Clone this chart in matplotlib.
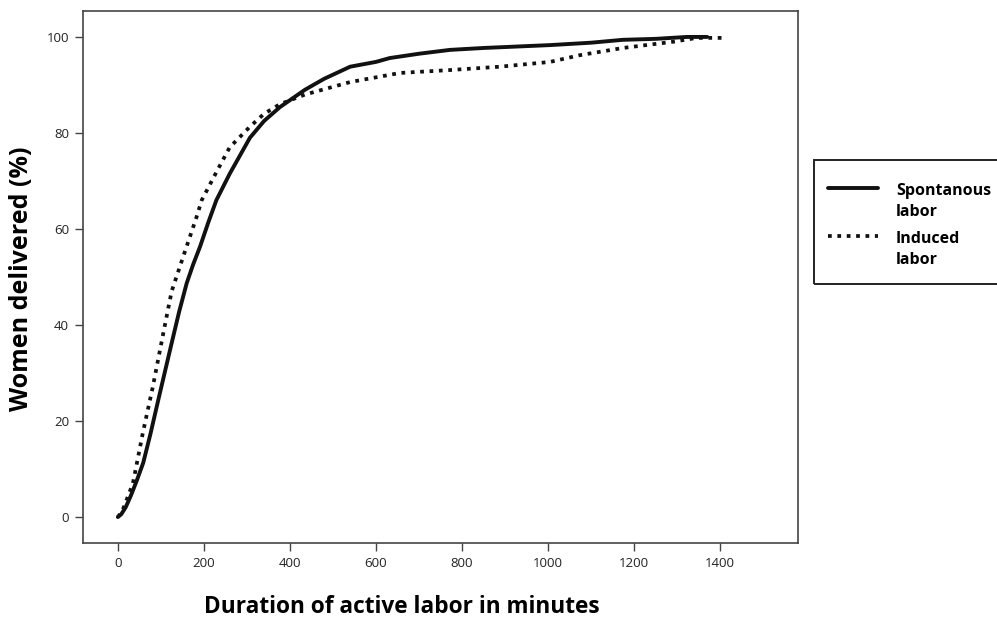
import matplotlib.pyplot as plt
from matplotlib.patches import Rectangle
from matplotlib.lines import Line2D

# cumulative share of women delivered vs. minutes of active labor
spont_min = [0, 8, 18, 30, 44, 59, 76, 94, 110, 125, 142, 160, 175, 191, 210,
             229, 260, 307, 340, 377, 435, 480, 540, 600, 632, 700, 772, 850,
             1005, 1100, 1174, 1250, 1323, 1370]
spont_pct = [0, 0.6, 2.0, 4.4, 7.6, 11.3, 17.4, 24.4, 30.5, 36.2, 42.6, 48.7,
             52.6, 56.3, 61.3, 66, 71.5, 79, 82.5, 85.4, 89, 91.3, 93.8, 94.8,
             95.6, 96.5, 97.3, 97.7, 98.3, 98.8, 99.4, 99.6, 100, 100]

induced_min = [0, 10, 20, 35, 58, 81, 105, 125, 151, 183, 195, 230, 260, 307,
               340, 377, 435, 540, 656, 772, 888, 1005, 1074, 1174, 1291, 1346, 1416]
induced_pct = [0, 1.2, 3.5, 7, 17.5, 27, 38, 47, 54, 62.5, 66, 72, 77, 81.3,
               84, 86, 88, 90.6, 92.5, 93.1, 93.8, 94.8, 96.2, 97.7, 99, 99.8, 99.8]

x_ticks = [0, 200, 400, 600, 800, 1000, 1200, 1400]
y_ticks = [0, 20, 40, 60, 80, 100]
labels = [("Spontanous", "labor"), ("Induced", "labor")]

plt.rcParams['font.family'] = ['Open Sans', 'DejaVu Sans']

W, H = 997, 622
fig = plt.figure(figsize=(W / 100, H / 100), dpi=100)
ax = fig.add_axes([83 / W, 1 - 543 / H, 715 / W, 532 / H])

solid_style = dict(color="#111111", lw=2.8, solid_capstyle="round",
                   solid_joinstyle="round")
dot_style = dict(color="#111111", lw=2.7, linestyle=(0, (1, 1.5)))

ax.plot(spont_min, spont_pct, **solid_style)
ax.plot(induced_min, induced_pct, **dot_style)

ax.set_xlim(-81, 1581)
ax.set_ylim(-5.4, 105.4)
ax.set_xticks(x_ticks)
ax.set_yticks(y_ticks)
ax.tick_params(direction="out", length=6, width=1, colors="#444444",
               labelsize=9.5, labelcolor="#222222", pad=4)
for s in ax.spines.values():
    s.set_color("#444444")
    s.set_linewidth(1.2)

# axis titles placed by hand, like the original layout
fig.text(402 / W, 1 - 607 / H, "Duration of active labor in minutes",
         fontsize=16.3, fontweight="bold", ha="center", va="center")
fig.text(22 / W, 1 - 279 / H, "Women delivered (%)", fontsize=18,
         fontweight="bold", ha="center", va="center", rotation=90)

# legend drawn by hand: box runs off the right edge of the picture
fig.patches.append(Rectangle((814 / W, 1 - 284 / H), 190 / W, 124 / H,
                             transform=fig.transFigure, fill=False,
                             edgecolor="#222222", lw=1.4))
key_y = [188, 236]
for (l1, l2), ky, st in zip(labels, key_y, [solid_style, dot_style]):
    fig.add_artist(Line2D([828 / W, 878 / W], [1 - ky / H, 1 - ky / H],
                          transform=fig.transFigure, **st))
    fig.text(896 / W, 1 - (ky + 7) / H, l1, fontsize=11.5, fontweight="bold",
             va="baseline")
    fig.text(896 / W, 1 - (ky + 28) / H, l2, fontsize=11.5, fontweight="bold",
             va="baseline")

fig.savefig("out.png", dpi=100)
